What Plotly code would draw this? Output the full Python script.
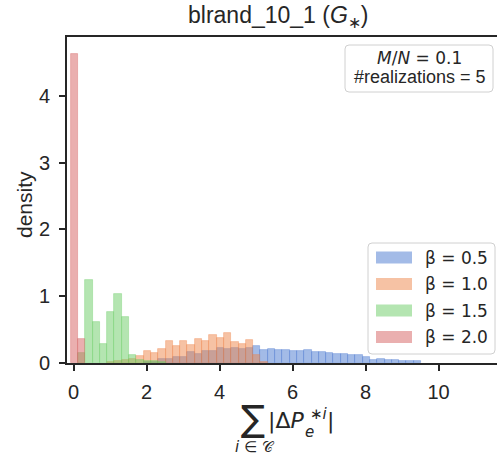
import plotly.graph_objects as go

# ---------------- data ----------------
BIN_START = -0.08
BIN_WIDTH = 0.2

series_labels = ["β = 0.5", "β = 1.0", "β = 1.5", "β = 2.0"]
series_colors = ["#4878D0", "#EE854A", "#6ACC64", "#D65F5F"]

# densities per bin (bin k covers [BIN_START + k*BIN_WIDTH, BIN_START + (k+1)*BIN_WIDTH])
density_b05 = [0, 0, 0, 0, 0, 0, 0, 0, 0, 0,
               0.01, 0.02, 0.055, 0.055, 0.09, 0.09, 0.165, 0.13, 0.175, 0.175,
               0.22, 0.205, 0.22, 0.205, 0.22, 0.25, 0.20, 0.215, 0.20, 0.19,
               0.175, 0.175, 0.19, 0.165, 0.165, 0.15, 0.14, 0.13, 0.115, 0.125,
               0.09, 0.04, 0.055, 0.04, 0.04, 0.03, 0.025, 0.025]
density_b10 = [0, 0, 0, 0, 0, 0.02, 0.03, 0.05, 0.06, 0.105,
               0.175, 0.155, 0.205, 0.325, 0.25, 0.325, 0.265, 0.355, 0.325, 0.415,
               0.375, 0.445, 0.31, 0.29, 0.34, 0.115, 0.015]
density_b15 = [0, 0.15, 1.25, 0.62, 0.28, 0.77, 1.03, 0.69, 0.115, 0.04,
               0.03, 0.03, 0.01]
density_b20 = [4.63, 0.355]

all_series = [density_b05, density_b10, density_b15, density_b20]

x_ticks = [0, 2, 4, 6, 8, 10]
y_ticks = [0, 1, 2, 3, 4]

annotation_lines = ["<i>M</i>/<i>N</i> = 0.1", "#realizations = 5"]

# ---------------- layout geometry ----------------
W, H = 497, 457
ML, MR, MT, MB = 67, 0, 37, 94
PW, PH = W - ML - MR, H - MT - MB


def px(xpix):
    return (xpix - ML) / PW


def py(ypix):
    return (H - MB - ypix) / PH


def rgba(hexc, a):
    hexc = hexc.lstrip("#")
    r, g, b = int(hexc[0:2], 16), int(hexc[2:4], 16), int(hexc[4:6], 16)
    return f"rgba({r},{g},{b},{a})"


def rounded_rect(x0, y0, x1, y1, r=4):
    rx, ry = r / PW, r / PH
    X0, X1 = px(x0), px(x1)
    Y0, Y1 = py(y1), py(y0)
    return (f"M {X0+rx},{Y0} L {X1-rx},{Y0} Q {X1},{Y0} {X1},{Y0+ry} "
            f"L {X1},{Y1-ry} Q {X1},{Y1} {X1-rx},{Y1} L {X0+rx},{Y1} "
            f"Q {X0},{Y1} {X0},{Y1-ry} L {X0},{Y0+ry} Q {X0},{Y0} {X0+rx},{Y0} Z")


fig = go.Figure()

for label, color, dens in zip(series_labels, series_colors, all_series):
    xs, ys = [], []
    for k, d in enumerate(dens):
        if d > 0:
            xs.append(BIN_START + BIN_WIDTH * (k + 0.5))
            ys.append(d)
    fig.add_trace(go.Bar(
        x=xs, y=ys, width=BIN_WIDTH, name=label,
        marker=dict(color=rgba(color, 0.5), line=dict(color=rgba(color, 0.45), width=0.8)),
        showlegend=False,
    ))

axis_color = "#262626"
text_font = "Liberation Sans, Arial, sans-serif"
tick_font = dict(family=text_font, size=20, color=axis_color)

fig.update_layout(
    width=W, height=H,
    margin=dict(l=ML, r=MR, t=MT, b=MB),
    paper_bgcolor="white", plot_bgcolor="white",
    barmode="overlay", bargap=0,
    xaxis=dict(range=[-0.18, 11.6], tickvals=x_ticks, ticks="outside", ticklen=6, tickwidth=2,
               tickcolor=axis_color, showline=True, linewidth=2, linecolor=axis_color,
               mirror=True, showgrid=False, zeroline=False, tickfont=tick_font,
               ticklabelstandoff=4),
    yaxis=dict(range=[0, 4.88], tickvals=y_ticks, ticks="outside", ticklen=6, tickwidth=2,
               tickcolor=axis_color, showline=True, linewidth=2, linecolor=axis_color,
               mirror=False, showgrid=False, zeroline=False, tickfont=tick_font,
               ticklabelstandoff=5),
    showlegend=False,
)

shapes = []
annots = []

# title
annots.append(dict(x=px(278.5), y=py(17), xref="paper", yref="paper", showarrow=False,
                   xanchor="center", yanchor="middle",
                   text="blrand_10_1 (<i>G</i><sub>∗</sub>)",
                   font=dict(family=text_font, size=23, color=axis_color)))

# y label
annots.append(dict(x=px(24), y=py(205), xref="paper", yref="paper", showarrow=False,
                   xanchor="center", yanchor="middle", textangle=-90, text="density",
                   font=dict(family=text_font, size=21, color=axis_color)))

# x label (math composed of pieces)
math_font = "DejaVu Sans"
annots.append(dict(x=px(252.5), y=py(418), xref="paper", yref="paper", showarrow=False,
                   xanchor="center", yanchor="middle", text="∑",
                   font=dict(family=math_font, size=36, color=axis_color)))
annots.append(dict(x=px(255), y=py(447), xref="paper", yref="paper", showarrow=False,
                   xanchor="center", yanchor="middle", text="<i>i</i> ∈ 𝒞",
                   font=dict(family=math_font, size=15, color=axis_color)))
annots.append(dict(x=px(266), y=py(421), xref="paper", yref="paper", showarrow=False,
                   xanchor="left", yanchor="middle", text="|Δ<i>P</i>",
                   font=dict(family=math_font, size=22, color=axis_color)))
annots.append(dict(x=px(303), y=py(432), xref="paper", yref="paper", showarrow=False,
                   xanchor="left", yanchor="middle", text="<i>e</i>",
                   font=dict(family=math_font, size=15, color=axis_color)))
annots.append(dict(x=px(308), y=py(414), xref="paper", yref="paper", showarrow=False,
                   xanchor="left", yanchor="middle", text="∗<i>i</i>",
                   font=dict(family=math_font, size=15, color=axis_color)))
annots.append(dict(x=px(325), y=py(421), xref="paper", yref="paper", showarrow=False,
                   xanchor="left", yanchor="middle", text="|",
                   font=dict(family=math_font, size=22, color=axis_color)))

# info box (top right)
shapes.append(dict(type="path", xref="paper", yref="paper", path=rounded_rect(345, 45, 493, 92),
                   line=dict(color="#d0d0d0", width=1), fillcolor="rgba(255,255,255,0.8)"))
annots.append(dict(x=px(419.5), y=py(58), xref="paper", yref="paper", showarrow=False,
                   xanchor="center", yanchor="middle", text=annotation_lines[0],
                   font=dict(family=math_font, size=17, color=axis_color)))
annots.append(dict(x=px(419.5), y=py(77), xref="paper", yref="paper", showarrow=False,
                   xanchor="center", yanchor="middle", text=annotation_lines[1],
                   font=dict(family=text_font, size=18, color=axis_color)))

# legend (bottom right)
shapes.append(dict(type="path", xref="paper", yref="paper", path=rounded_rect(368, 243, 495, 354),
                   line=dict(color="#d0d0d0", width=1), fillcolor="rgba(255,255,255,0.8)"))
row_y = [257.5, 284, 310.5, 337]
for label, color, yc in zip(series_labels, series_colors, row_y):
    shapes.append(dict(type="rect", xref="paper", yref="paper",
                       x0=px(376), x1=px(412), y0=py(yc + 6), y1=py(yc - 6),
                       fillcolor=rgba(color, 0.5), line=dict(width=0)))
    annots.append(dict(x=px(423), y=py(yc), xref="paper", yref="paper", showarrow=False,
                       xanchor="left", yanchor="middle", text=label,
                       font=dict(family=math_font, size=17, color=axis_color)))

fig.update_layout(shapes=shapes, annotations=annots)

fig.write_html("out.html")
